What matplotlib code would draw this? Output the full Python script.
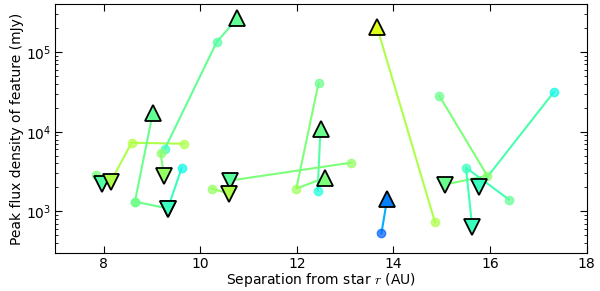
import numpy as np
import matplotlib
matplotlib.use("Agg")
from matplotlib import pyplot as plt
from matplotlib.ticker import MultipleLocator

plt.rcParams["mathtext.fontset"] = "cm"
plt.rcParams["xtick.direction"] = "in"
plt.rcParams["ytick.direction"] = "in"

# Each feature track: separations (AU), peak flux (mJy), marker per epoch, colour value (jet)
t1_x = [7.84, 7.97]
t1_y = [2900, 2240]
t1_m = ["o", "v"]
t1_c = [0.50, 0.45]

t2_x = [9.66, 8.58, 8.15]
t2_y = [7080, 7290, 2370]
t2_m = ["o", "o", "v"]
t2_c = [0.56, 0.57, 0.56]

t3_x = [8.65, 9.02]
t3_y = [1330, 17300]
t3_m = ["o", "^"]
t3_c = [0.50, 0.47]

t4_x = [9.62, 9.33]
t4_y = [3550, 1090]
t4_m = ["o", "v"]
t4_c = [0.37, 0.42]

t5_x = [8.65, 9.33]
t5_y = [1330, 1090]
t5_m = ["o", "v"]
t5_c = [0.48, 0.42]

t6_x = [12.45, 11.99, 12.59]
t6_y = [41000, 1940, 2660]
t6_m = ["o", "o", "^"]
t6_c = [0.48, 0.54, 0.50]

t7_x = [12.43, 12.49]
t7_y = [1830, 10900]
t7_m = ["o", "^"]
t7_c = [0.38, 0.48]

t8_x = [13.13, 10.61]
t8_y = [4100, 2440]
t8_m = ["o", "v"]
t8_c = [0.53, 0.46]

t9_x = [10.24, 10.59]
t9_y = [1940, 1680]
t9_m = ["o", "v"]
t9_c = [0.53, 0.56]

t10_x = [9.27, 10.34, 10.77]
t10_y = [6130, 133000, 266000]
t10_m = ["o", "o", "^"]
t10_c = [0.42, 0.45, 0.47]

t11_x = [9.18, 9.25]
t11_y = [5460, 2820]
t11_m = ["o", "v"]
t11_c = [0.52, 0.53]

t12_x = [14.86, 13.66]
t12_y = [730, 205000]
t12_m = ["o", "^"]
t12_c = [0.56, 0.62]

t13_x = [13.75, 13.87]
t13_y = [530, 1450]
t13_m = ["o", "^"]
t13_c = [0.22, 0.25]

t14_x = [14.95, 15.94, 15.07]
t14_y = [28200, 2820, 2180]
t14_m = ["o", "o", "v"]
t14_c = [0.48, 0.52, 0.48]

t15_x = [17.32, 15.77]
t15_y = [31600, 2000]
t15_m = ["o", "v"]
t15_c = [0.37, 0.42]

t16_x = [16.39, 15.50, 15.63]
t16_y = [1410, 3550, 630]
t16_m = ["o", "o", "v"]
t16_c = [0.47, 0.42, 0.42]

# colour value of the connecting line for each track
line_c = [0.47, 0.56, 0.48, 0.42, 0.48, 0.50, 0.45, 0.50,
          0.53, 0.47, 0.50, 0.56, 0.30, 0.50, 0.44, 0.43]

tracks = [
    (t1_x, t1_y, t1_m, t1_c), (t2_x, t2_y, t2_m, t2_c), (t3_x, t3_y, t3_m, t3_c),
    (t4_x, t4_y, t4_m, t4_c), (t5_x, t5_y, t5_m, t5_c), (t6_x, t6_y, t6_m, t6_c),
    (t7_x, t7_y, t7_m, t7_c), (t8_x, t8_y, t8_m, t8_c), (t9_x, t9_y, t9_m, t9_c),
    (t10_x, t10_y, t10_m, t10_c), (t11_x, t11_y, t11_m, t11_c), (t12_x, t12_y, t12_m, t12_c),
    (t13_x, t13_y, t13_m, t13_c), (t14_x, t14_y, t14_m, t14_c), (t15_x, t15_y, t15_m, t15_c),
    (t16_x, t16_y, t16_m, t16_c),
]

cmap = plt.get_cmap("jet")

fig = plt.figure(figsize=(6.0, 2.91), dpi=100)
ax = fig.add_axes([0.092, 0.13, 0.886, 0.856])

# lines first, then circles, then triangles on top
for (xs, ys, ms, cs), lc in zip(tracks, line_c):
    ax.plot(xs, ys, "-", color=cmap(lc), lw=1.5, zorder=2)
for xs, ys, ms, cs in tracks:
    for x, y, m, c in zip(xs, ys, ms, cs):
        if m == "o":
            ax.plot(x, y, "o", ms=6, color=cmap(c), mec=cmap(c), alpha=0.7, zorder=3)
for xs, ys, ms, cs in tracks:
    for x, y, m, c in zip(xs, ys, ms, cs):
        if m != "o":
            ax.plot(x, y, m, ms=11, mfc=cmap(c), mec="black", mew=1.3, zorder=4)

ax.set_yscale("log")
ax.set_xlim(7, 18)
ax.set_ylim(300, 4e5)
ax.xaxis.set_major_locator(MultipleLocator(2))
ax.tick_params(which="both", top=True, right=True, labelsize=10, pad=3)
ax.tick_params(which="major", length=5)
ax.tick_params(which="minor", length=2.5)
ax.set_xlabel("Separation from star $r$ (AU)", fontsize=10, labelpad=0)
ax.set_ylabel("Peak flux density of feature (mJy)", fontsize=10, labelpad=1)

plt.savefig("out.png", dpi=100)
